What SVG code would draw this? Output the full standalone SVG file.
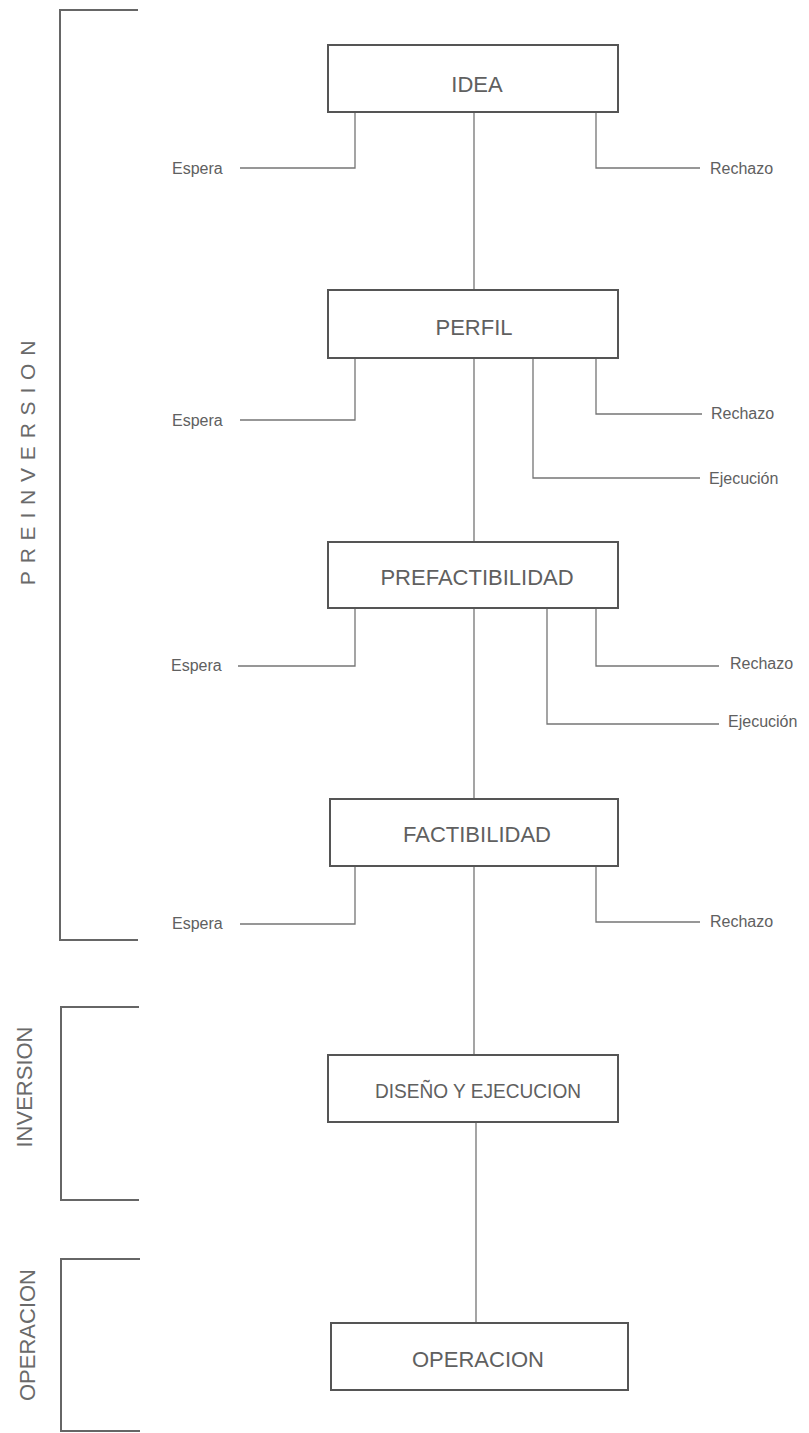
<svg xmlns="http://www.w3.org/2000/svg" width="809" height="1433" viewBox="0 0 809 1433">
<style>
.bg{fill:#ffffff}
.box{fill:#ffffff;stroke:#555555;stroke-width:2}
.lbl{font-family:"Liberation Sans",Arial,sans-serif;font-size:22px;fill:#606060;text-anchor:middle}
.sm{font-family:"Liberation Sans",Arial,sans-serif;font-size:16px;fill:#606060}
.ln{fill:none;stroke:#757575;stroke-width:1.3}
.br{fill:none;stroke:#666666;stroke-width:2}
.ph{font-family:"Liberation Sans",Arial,sans-serif;font-size:21px;fill:#6a6a6a;text-anchor:middle}
</style>
<rect class="bg" x="0" y="0" width="809" height="1433"/>

<g id="brackets">
  <path class="br" d="M138,10 H60 V940 H138"/>
  <path class="br" d="M139,1007 H61 V1200 H139"/>
  <path class="br" d="M140,1259 H61 V1431 H140"/>
</g>
<g id="phase-labels">
  <text class="ph" transform="translate(35,459) rotate(-90)" letter-spacing="7.8">PREINVERSION</text>
  <text class="ph" transform="translate(32,1087) rotate(-90)" style="font-size:22px">INVERSION</text>
  <text class="ph" transform="translate(35,1335) rotate(-90)" style="font-size:22px">OPERACION</text>
</g>

<g id="connectors">
  <path class="ln" d="M474,112 V290 M474,358 V542 M474,608 V799 M474,866 V1055 M476,1122 V1323"/>
  <path class="ln" d="M355,112 V168 H240"/>
  <path class="ln" d="M596,112 V168 H700"/>
  <path class="ln" d="M355,358 V420 H240"/>
  <path class="ln" d="M596,358 V414 H702"/>
  <path class="ln" d="M533,358 V478 H700"/>
  <path class="ln" d="M355,608 V666 H238"/>
  <path class="ln" d="M596,608 V666 H719"/>
  <path class="ln" d="M547,608 V724 H719"/>
  <path class="ln" d="M355,866 V924 H240"/>
  <path class="ln" d="M596,866 V922 H700"/>
</g>

<g id="branch-labels">
  <text class="sm" x="172" y="174">Espera</text>
  <text class="sm" x="710" y="174">Rechazo</text>
  <text class="sm" x="172" y="426">Espera</text>
  <text class="sm" x="711" y="419">Rechazo</text>
  <text class="sm" x="709" y="484">Ejecución</text>
  <text class="sm" x="171" y="671">Espera</text>
  <text class="sm" x="730" y="669">Rechazo</text>
  <text class="sm" x="728" y="727">Ejecución</text>
  <text class="sm" x="172" y="929">Espera</text>
  <text class="sm" x="710" y="927">Rechazo</text>
</g>

<g id="node-idea">
  <rect class="box" x="328" y="45" width="290" height="67"/>
  <text class="lbl" x="477" y="92">IDEA</text>
</g>
<g id="node-perfil">
  <rect class="box" x="328" y="290" width="290" height="68"/>
  <text class="lbl" x="474" y="335">PERFIL</text>
</g>
<g id="node-prefactibilidad">
  <rect class="box" x="328" y="542" width="290" height="66"/>
  <text class="lbl" x="477" y="585">PREFACTIBILIDAD</text>
</g>
<g id="node-factibilidad">
  <rect class="box" x="330" y="799" width="288" height="67"/>
  <text class="lbl" x="477" y="842">FACTIBILIDAD</text>
</g>
<g id="node-diseno">
  <rect class="box" x="328" y="1055" width="290" height="67"/>
  <text class="lbl" x="478" y="1098" style="font-size:21px" textLength="206" lengthAdjust="spacingAndGlyphs">DISEÑO Y EJECUCION</text>
</g>
<g id="node-operacion">
  <rect class="box" x="331" y="1323" width="297" height="67"/>
  <text class="lbl" x="478" y="1367">OPERACION</text>
</g>
</svg>
